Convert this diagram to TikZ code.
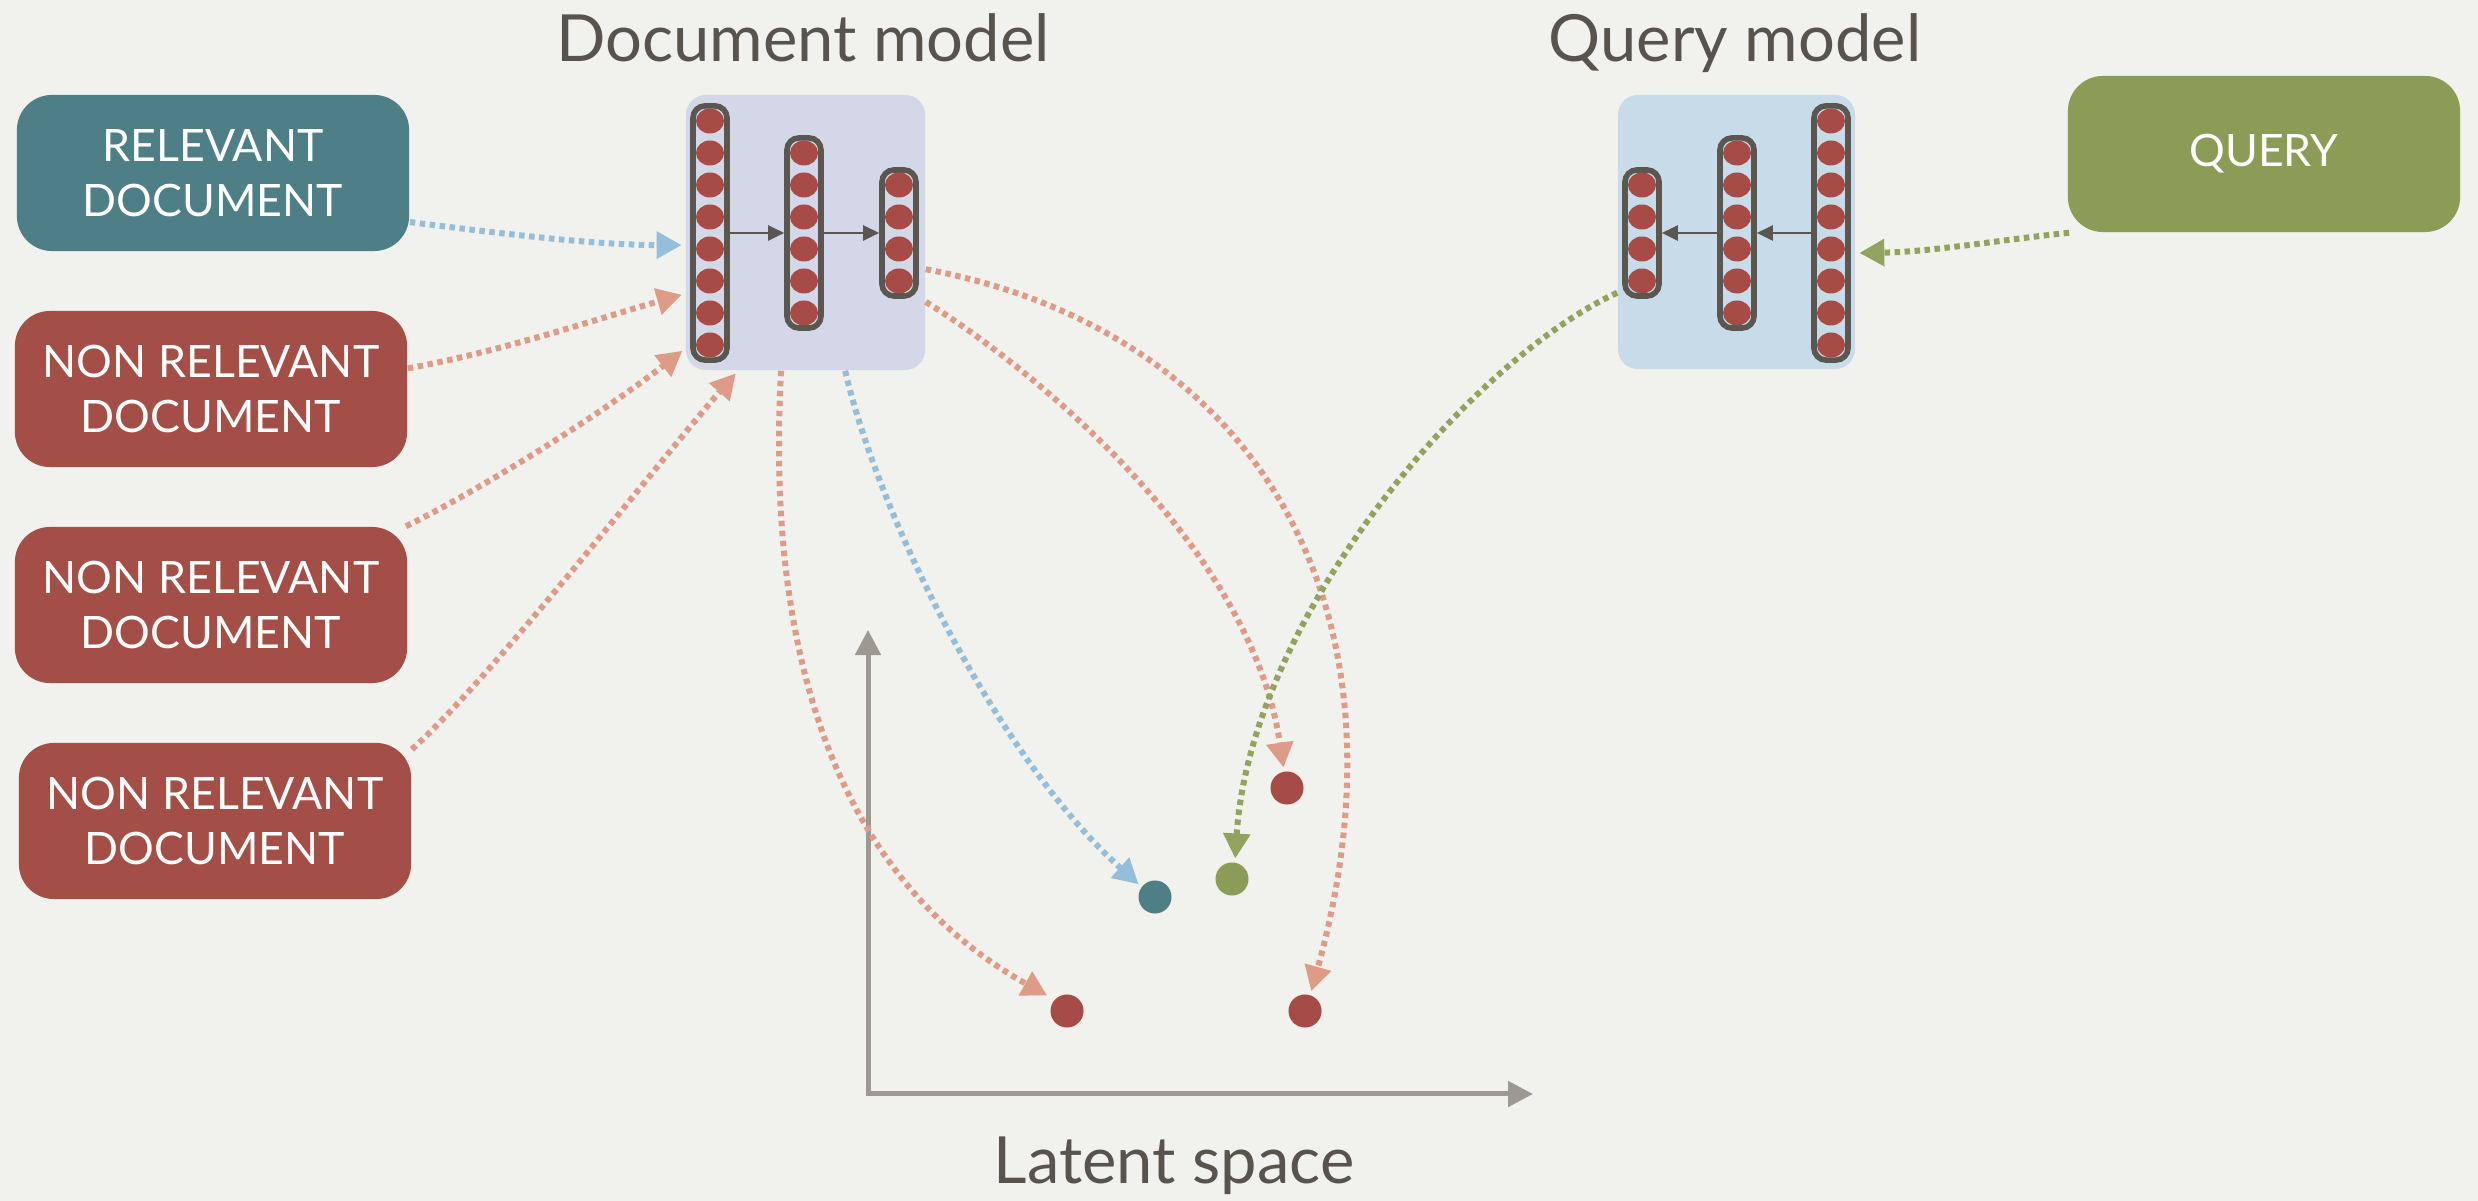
\documentclass[tikz,border=0pt]{standalone}
\usepackage{fontspec}
\setmainfont{Lato}
\usetikzlibrary{arrows.meta}

\definecolor{paper}{HTML}{F1F1ED}
\definecolor{relteal}{HTML}{4F7F86}
\definecolor{nonred}{HTML}{A34F47}
\definecolor{qgreen}{HTML}{8A9C55}
\definecolor{docpanel}{HTML}{D3D7E8}
\definecolor{qpanel}{HTML}{C8DBE8}
\definecolor{colline}{HTML}{5A5650}
\definecolor{unitred}{HTML}{A64B45}
\definecolor{arrblue}{HTML}{95BEDB}
\definecolor{arrred}{HTML}{DE9C88}
\definecolor{arrgreen}{HTML}{92A35D}
\definecolor{axisgray}{HTML}{9D9891}
\definecolor{titlegray}{HTML}{58534D}

% one layer of a network: name, x, number of units
\newcommand{\netlayer}[3]{%
  \node[layer, minimum height={#3*0.32cm-0.02cm}] (#1) at (#2,233) {};
  \foreach \k in {1,...,#3}
    \fill[unitred] (#2,{233+(\k-(#3+1)/2)*32}) ellipse [x radius=0.14cm, y radius=0.125cm];
}

\begin{document}
\begin{tikzpicture}[x=0.01cm, y=-0.01cm,
    inputbox/.style = {rounded corners=0.35cm, minimum width=3.92cm, minimum height=1.56cm, inner sep=0, text=white, align=center, font=\fontsize{12.7}{15.6}\selectfont},
    panel/.style = {rounded corners=0.2cm, inner sep=0},
    layer/.style = {draw=colline, line width=1.6pt, rounded corners=0.12cm, minimum width=0.34cm, inner sep=0},
    flow/.style = {draw=colline, line width=0.7pt, -{Triangle[length=0.16cm, width=0.15cm]}},
    link/.style = {line width=0.06cm, dash pattern=on 0.055cm off 0.045cm, -{Triangle[length=0.25cm, width=0.26cm]}, shorten >=1pt},
    pt/.style = {circle, minimum size=0.33cm, inner sep=0},
    title/.style = {text=titlegray, anchor=base, font=\fontsize{18.5}{22}\selectfont},
    axis/.style = {draw=axisgray, line width=0.05cm, {Triangle[length=0.25cm, width=0.25cm]}-{Triangle[length=0.25cm, width=0.25cm]}}]

    \useasboundingbox (0,0) rectangle (2478,1201);
    \fill[paper] (0,0) rectangle (2478,1201);

    % Titles
    \node[title] (doctitle) at (803,62) {Document model};
    \node[title] (qtitle) at (1735,62) {Query model};
    \node[title, font=\fontsize{18.5}{22}\selectfont] (lattitle) at (1174,1184) {Latent space};

    % Models
    \node[panel, fill=docpanel, minimum width=2.39cm, minimum height=2.75cm] (docm) at (805.5,232.5) {};
    \node[panel, fill=qpanel, minimum width=2.37cm, minimum height=2.74cm] (qm) at (1736.5,232) {};

    \netlayer{d1}{710}{8}
    \netlayer{d2}{804}{6}
    \netlayer{d3}{899}{4}
    \draw[flow] (d1) -- (d2);
    \draw[flow] (d2) -- (d3);

    \netlayer{q1}{1642}{4}
    \netlayer{q2}{1737}{6}
    \netlayer{q3}{1831}{8}
    \draw[flow] (q3) -- (q2);
    \draw[flow] (q2) -- (q1);

    % Inputs
    \node[inputbox, fill=relteal] (rel) at (213,173) {RELEVANT\\DOCUMENT};
    \node[inputbox, fill=nonred] (nr1) at (211,389) {NON RELEVANT\\DOCUMENT};
    \node[inputbox, fill=nonred] (nr2) at (211,605) {NON RELEVANT\\DOCUMENT};
    \node[inputbox, fill=nonred] (nr3) at (215,821) {NON RELEVANT\\DOCUMENT};
    \node[inputbox, fill=qgreen] (query) at (2264,154) {QUERY};

    % Latent space
    \coordinate (ax-y) at (868,630);
    \coordinate (ax-x) at (1533,1094);
    \draw[axis] (ax-y) |- (ax-x);

    \node[pt, fill=relteal] (prel) at (1155,897) {};
    \node[pt, fill=qgreen] (pq) at (1232,879) {};
    \node[pt, fill=unitred] (pn1) at (1287,788) {};
    \node[pt, fill=unitred] (pn2) at (1067,1011) {};
    \node[pt, fill=unitred] (pn3) at (1305,1011) {};

    % Links
    \draw[link, arrblue] (rel.346) .. controls (520,236) and (600,245) .. (docm.186);
    \draw[link, arrred] (nr1.6) .. controls (500,352) and (600,318) .. (docm.207);
    \draw[link, arrred] (nr2.22) .. controls (480,490) and (600,415) .. (docm.224.5);
    \draw[link, arrred] (nr3.20) .. controls (490,680) and (660,460) .. (docm.244);

    \draw[link, arrblue] (docm.286) .. controls (880,520) and (1000,760) .. (prel.143);
    \draw[link, arrred, shorten >=0.08cm] (docm.260) .. controls (765,660) and (840,880) .. (pn2.138);
    \draw[link, arrred] (docm.330) .. controls (1020,360) and (1250,540) .. (pn1.100);
    \draw[link, arrred] (docm.343) .. controls (1250,330) and (1420,600) .. (pn3.72);

    \draw[link, arrgreen] (query.202) .. controls (2000,240) and (1930,252) .. (qm.350);
    \draw[link, arrgreen] (qm.207) .. controls (1470,360) and (1250,620) .. (pq.80);
\end{tikzpicture}
\end{document}
